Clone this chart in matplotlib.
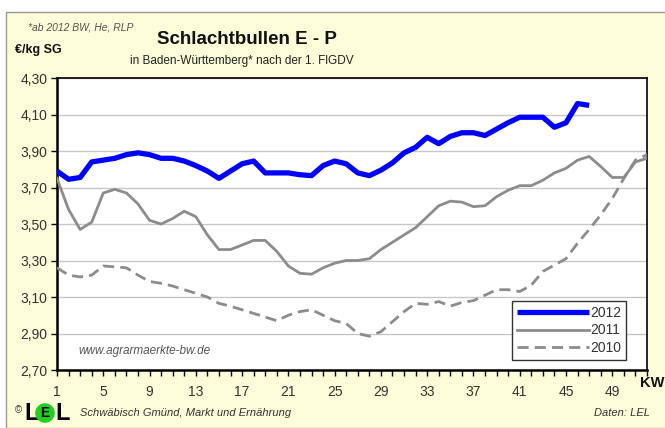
import matplotlib.pyplot as plt
from matplotlib.ticker import MultipleLocator, FixedLocator

plt.rcParams['font.family'] = ['Liberation Sans', 'DejaVu Sans']

# Kalenderwochen und Preise (EUR/kg SG)
weeks_2012 = list(range(1, 48))
price_2012 = [3.79, 3.745, 3.755, 3.84, 3.85, 3.86, 3.88, 3.89, 3.88, 3.86,
              3.86, 3.845, 3.82, 3.79, 3.75, 3.79, 3.83, 3.845, 3.78, 3.78,
              3.78, 3.77, 3.765, 3.82, 3.845, 3.83, 3.78, 3.765, 3.795, 3.835,
              3.89, 3.92, 3.975, 3.94, 3.98, 4.00, 4.00, 3.985, 4.02, 4.055,
              4.085, 4.085, 4.085, 4.03, 4.055, 4.16, 4.15]

weeks_2011 = list(range(1, 53))
price_2011 = [3.75, 3.58, 3.47, 3.51, 3.67, 3.69, 3.67, 3.61, 3.52, 3.50,
              3.53, 3.57, 3.54, 3.44, 3.36, 3.36, 3.385, 3.41, 3.41, 3.35,
              3.27, 3.23, 3.225, 3.26, 3.285, 3.30, 3.30, 3.31, 3.36, 3.40,
              3.44, 3.48, 3.54, 3.60, 3.625, 3.62, 3.595, 3.60, 3.65, 3.685,
              3.71, 3.71, 3.74, 3.78, 3.805, 3.85, 3.87, 3.815, 3.755, 3.755,
              3.84, 3.86]

weeks_2010 = list(range(1, 53))
price_2010 = [3.26, 3.22, 3.21, 3.22, 3.27, 3.265, 3.26, 3.22, 3.185, 3.175,
              3.16, 3.14, 3.12, 3.10, 3.065, 3.05, 3.03, 3.01, 2.99, 2.97,
              3.00, 3.02, 3.03, 3.00, 2.97, 2.955, 2.90, 2.885, 2.91, 2.965,
              3.02, 3.065, 3.06, 3.075, 3.05, 3.07, 3.08, 3.11, 3.14, 3.14,
              3.13, 3.165, 3.24, 3.275, 3.31, 3.395, 3.47, 3.55, 3.64, 3.75,
              3.85, 3.88]

y_ticks = [2.70, 2.90, 3.10, 3.30, 3.50, 3.70, 3.90, 4.10, 4.30]
x_labels = list(range(1, 50, 4))

bg = '#fdfdd9'

fig = plt.figure(figsize=(6.65, 4.28), dpi=100)
fig.patch.set_facecolor('white')

# gelber Hintergrund mit Rahmen
frame = plt.Rectangle((6 / 665, 0.0), 1.0, 1 - 12 / 428, transform=fig.transFigure,
                      facecolor=bg, edgecolor='#999999', linewidth=1.0, zorder=-10)
fig.patches.append(frame)

ax = fig.add_axes([57 / 665, 1 - 370 / 428, 590 / 665, 292 / 428])
ax.set_facecolor('white')

ax.plot(weeks_2010, price_2010, color='#8c8c8c', linewidth=2.0,
        linestyle=(0, (4, 2.2)), label='2010', zorder=3)
ax.plot(weeks_2011, price_2011, color='#8c8c8c', linewidth=2.0,
        label='2011', zorder=4)
ax.plot(weeks_2012, price_2012, color='#0000ff', linewidth=3.8,
        label='2012', zorder=5, solid_capstyle='butt')

ax.set_xlim(1, 52)
ax.set_ylim(2.70, 4.30)
ax.yaxis.set_major_locator(FixedLocator(y_ticks))
ax.set_yticklabels([f'{v:.2f}'.replace('.', ',') for v in y_ticks])
ax.xaxis.set_major_locator(FixedLocator(x_labels))
ax.set_xticklabels([str(v) for v in x_labels])
ax.xaxis.set_minor_locator(MultipleLocator(1))
ax.grid(axis='y', color='#c8c8c8', linewidth=1.0, zorder=0)
ax.tick_params(axis='both', which='both', direction='out', length=4,
               width=1, color='black', labelsize=10, labelcolor='#333333')
ax.tick_params(axis='x', pad=7)
ax.tick_params(axis='y', pad=3)
for s in ax.spines.values():
    s.set_color('black')
    s.set_linewidth(1.2)
ax.spines['left'].set_linewidth(1.8)
ax.spines['bottom'].set_linewidth(1.8)

handles, labels = ax.get_legend_handles_labels()
order = [2, 1, 0]
leg = ax.legend([handles[i] for i in order], [labels[i] for i in order],
                loc='lower right', bbox_to_anchor=(0.965, 0.035),
                fontsize=10, frameon=True, fancybox=False, framealpha=1,
                edgecolor='#333333', handlelength=5.2, handletextpad=0.1,
                borderpad=0.35, labelspacing=0.25, borderaxespad=0)
leg.get_frame().set_linewidth(1.0)
for t in leg.get_texts():
    t.set_color('#333333')

ax.text(0.037, 0.055, 'www.agrarmaerkte-bw.de', transform=ax.transAxes,
        fontsize=8.5, style='italic', color='#555555')

# Texte um das Diagramm
fig.text(247 / 665, 1 - 40 / 428, 'Schlachtbullen E - P', ha='center', va='center',
         fontsize=13.5, fontweight='bold', color='#111111')
fig.text(242 / 665, 1 - 61 / 428, 'in Baden-Württemberg* nach der 1. FlGDV',
         ha='center', va='center', fontsize=8.5, color='#222222')
fig.text(28 / 665, 1 - 28 / 428, '*ab 2012 BW, He, RLP', ha='left', va='center',
         fontsize=7.5, style='italic', color='#555555')
fig.text(15 / 665, 1 - 50 / 428, '€/kg SG', ha='left', va='center',
         fontsize=9, fontweight='bold', color='#111111')
fig.text(664 / 665, 1 - 383 / 428, 'KW', ha='right', va='center',
         fontsize=10.5, fontweight='bold', color='#111111')
fig.text(650 / 665, 1 - 413 / 428, 'Daten: LEL', ha='right', va='center',
         fontsize=8, style='italic', color='#333333')
fig.text(80 / 665, 1 - 413 / 428, 'Schwäbisch Gmünd, Markt und Ernährung',
         ha='left', va='center', fontsize=8, style='italic', color='#333333')

# Logo
fig.text(15 / 665, 1 - 410 / 428, '©', ha='left', va='center', fontsize=7,
         color='#333333')
fig.text(24 / 665, 1 - 413 / 428, 'L', ha='left', va='center', fontsize=17,
         fontweight='bold', color='black')
fig.text(45 / 665, 1 - 413 / 428, 'E', ha='center', va='center', fontsize=10,
         fontweight='bold', color='black',
         bbox=dict(boxstyle='circle,pad=0.2', facecolor='#1fd01f', edgecolor='none'))
fig.text(55 / 665, 1 - 413 / 428, 'L', ha='left', va='center', fontsize=17,
         fontweight='bold', color='black')

fig.savefig('out.png', dpi=100, facecolor=fig.get_facecolor())
